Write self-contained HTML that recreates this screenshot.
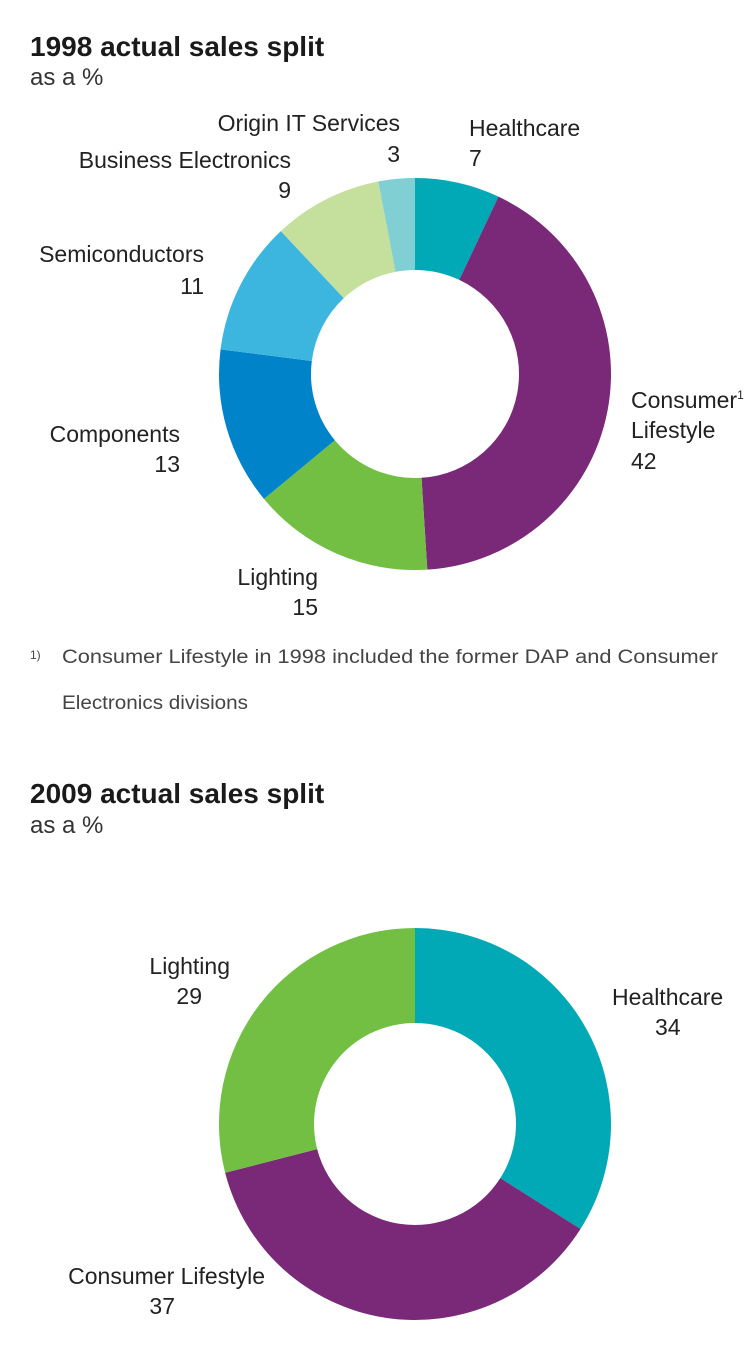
<!DOCTYPE html>
<html><head><meta charset="utf-8"><style>
html,body{margin:0;padding:0;background:#fff;}
svg{display:block;font-family:"Liberation Sans",sans-serif;}
.t{font-size:28px;font-weight:bold;fill:#1a1a1a;}
.s{font-size:24px;fill:#333;font-weight:300;}
.l{font-size:23px;fill:#222;}
.f{font-size:19px;fill:#444;}
</style></head><body>
<svg id="chart" width="748" height="1354" viewBox="0 0 748 1354">
<text class="t" x="30" y="56">1998 actual sales split</text>
<text class="s" x="30" y="85">as a %</text>
<g id="donut1"></g>
<text class="l" x="400" y="131" text-anchor="end">Origin IT Services</text>
<text class="l" x="400" y="162" text-anchor="end">3</text>
<text class="l" x="291" y="168" text-anchor="end">Business Electronics</text>
<text class="l" x="291" y="198" text-anchor="end">9</text>
<text class="l" x="469" y="136">Healthcare</text>
<text class="l" x="469" y="166">7</text>
<text class="l" x="204" y="262" text-anchor="end">Semiconductors</text>
<text class="l" x="204" y="294" text-anchor="end">11</text>
<text class="l" x="180" y="442" text-anchor="end">Components</text>
<text class="l" x="180" y="472" text-anchor="end">13</text>
<text class="l" x="318" y="585" text-anchor="end">Lighting</text>
<text class="l" x="318" y="615" text-anchor="end">15</text>
<text class="l" x="631" y="408">Consumer<tspan font-size="12" dy="-9">1</tspan></text>
<text class="l" x="631" y="438">Lifestyle</text>
<text class="l" x="631" y="469">42</text>
<text x="30" y="659" font-size="12" fill="#444">1)</text>
<text class="f" x="62" y="663" textLength="656" lengthAdjust="spacingAndGlyphs">Consumer Lifestyle in 1998 included the former DAP and Consumer</text>
<text class="f" x="62" y="709" textLength="186" lengthAdjust="spacingAndGlyphs">Electronics divisions</text>
<text class="t" x="30" y="803">2009 actual sales split</text>
<text class="s" x="30" y="833">as a %</text>
<g id="donut2"></g>
<text class="l" x="230" y="974" text-anchor="end">Lighting</text>
<text class="l" x="202" y="1004" text-anchor="end">29</text>
<text class="l" x="612" y="1005">Healthcare</text>
<text class="l" x="655" y="1035">34</text>
<text class="l" x="265" y="1284" text-anchor="end">Consumer Lifestyle</text>
<text class="l" x="175" y="1314" text-anchor="end">37</text>
</svg>
<script>
const cats1998 = ["Healthcare","Consumer Lifestyle","Lighting","Components","Semiconductors","Business Electronics","Origin IT Services"];
const vals1998 = [7,42,15,13,11,9,3];
const cols1998 = ["#00a9b5","#7a2878","#72bf44","#0083c9","#3cb5df","#c5e09c","#7fcfd3"];
const cats2009 = ["Healthcare","Consumer Lifestyle","Lighting"];
const vals2009 = [34,37,29];
const cols2009 = ["#00a9b5","#7a2878","#72bf44"];
const NS="http://www.w3.org/2000/svg";
function donut(id,cats,vals,cols,cx,cy,R,r){
  const g=document.getElementById(id);
  const tot=vals.reduce((a,b)=>a+b,0);
  let a0=0;
  const pt=(a,rad)=>[cx+rad*Math.sin(a),cy-rad*Math.cos(a)];
  vals.forEach((v,i)=>{
    const a1=a0+v/tot*2*Math.PI;
    const lg=(a1-a0)>Math.PI?1:0;
    const [x0,y0]=pt(a0,R),[x1,y1]=pt(a1,R),[x2,y2]=pt(a1,r),[x3,y3]=pt(a0,r);
    const p=document.createElementNS(NS,"path");
    p.setAttribute("d",`M${x0},${y0}A${R},${R} 0 ${lg} 1 ${x1},${y1}L${x2},${y2}A${r},${r} 0 ${lg} 0 ${x3},${y3}Z`);
    p.setAttribute("fill",cols[i]);
    
    
    g.appendChild(p);
    a0=a1;
  });
}
donut("donut1",cats1998,vals1998,cols1998,415,374,196,104);
donut("donut2",cats2009,vals2009,cols2009,415,1124,196,101);
</script>
</body></html>
